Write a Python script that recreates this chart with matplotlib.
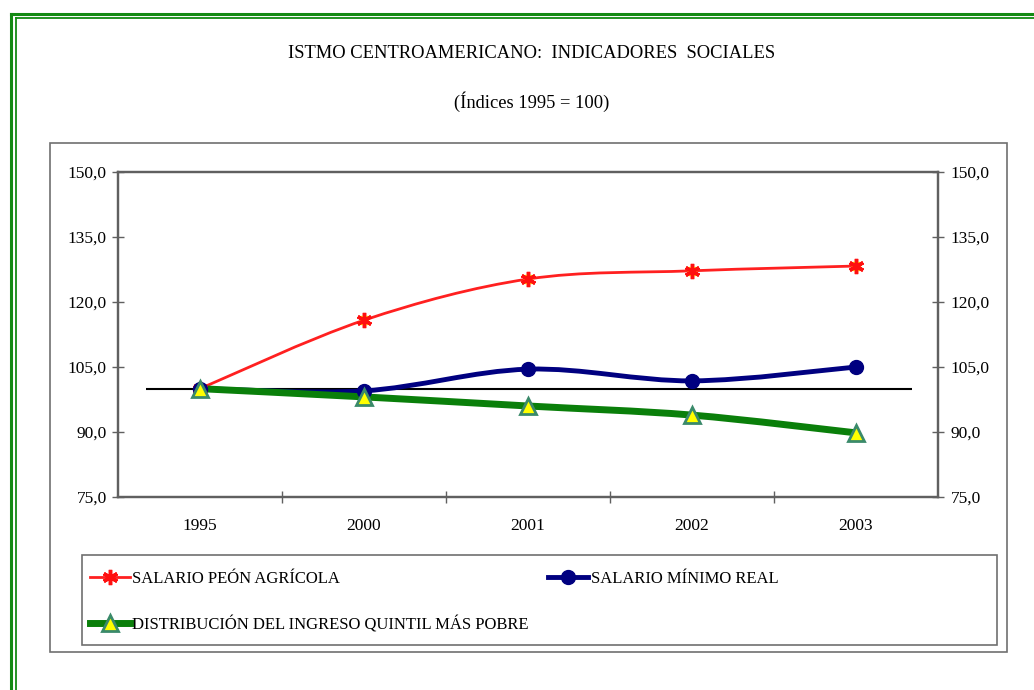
import matplotlib.pyplot as plt
import numpy as np
from matplotlib.path import Path
from matplotlib.patches import PathPatch, Rectangle
from matplotlib.lines import Line2D
from matplotlib.ticker import FuncFormatter

plt.rcParams['font.family'] = ['Liberation Serif', 'DejaVu Serif']

years = ["1995", "2000", "2001", "2002", "2003"]
peon = [100.0, 115.8, 125.3, 127.2, 128.3]
minimo = [100.0, 99.5, 104.5, 101.8, 105.0]
quintil = [100.0, 98.1, 96.0, 93.9, 89.8]

labels = ["SALARIO PEÓN AGRÍCOLA", "DISTRIBUCIÓN DEL INGRESO QUINTIL MÁS POBRE",
          "SALARIO MÍNIMO REAL"]
yticks = [75, 90, 105, 120, 135, 150]


def smooth_path(xs, ys):
    # excel style smoothed line: bezier segments through each point
    pts = np.column_stack([xs, ys]).astype(float)
    n = len(pts)
    verts = [pts[0]]
    codes = [Path.MOVETO]
    for i in range(n - 1):
        p0 = pts[max(i - 1, 0)]
        p1 = pts[i]
        p2 = pts[i + 1]
        p3 = pts[min(i + 2, n - 1)]
        c1 = p1 + (p2 - p0) / 6
        c2 = p2 - (p3 - p1) / 6
        verts += [c1, c2, p2]
        codes += [Path.CURVE4] * 3
    return Path(verts, codes)


fig = plt.figure(figsize=(10.34, 6.9), dpi=100)

# green double frame
fig.add_artist(Line2D([11/1034, 11/1034], [0, 1 - 14/690], color="#138a13", lw=2.2))
fig.add_artist(Line2D([11/1034, 1], [1 - 14/690, 1 - 14/690], color="#138a13", lw=2.2))
fig.add_artist(Line2D([16/1034, 16/1034], [0, 1 - 18/690], color="#138a13", lw=1.3))
fig.add_artist(Line2D([16/1034, 1], [1 - 18/690, 1 - 18/690], color="#138a13", lw=1.3))

# chart area and legend boxes
fig.add_artist(Rectangle((50/1034, 1 - 652/690), 957/1034, 509/690, transform=fig.transFigure,
                         fill=False, edgecolor="#707070", lw=1.2))
fig.add_artist(Rectangle((82/1034, 1 - 645/690), 915/1034, 90/690, transform=fig.transFigure,
                         fill=False, edgecolor="#707070", lw=1.2))

fig.text(0.5145, 1 - 53/690, "ISTMO CENTROAMERICANO:  INDICADORES  SOCIALES",
         ha="center", va="center", fontsize=13.3)
fig.text(0.5145, 1 - 102/690, "(Índices 1995 = 100)", ha="center", va="center", fontsize=13.3)

ax = fig.add_axes([118/1034, 1 - 497/690, 820/1034, 325/690])
x = np.arange(len(years))

ax.hlines(100, -0.33, 4.34, color="black", lw=1.5, zorder=2)

ax.add_patch(PathPatch(smooth_path(x, peon), fill=False, edgecolor="#ff2020", lw=2, zorder=3))
ax.add_patch(PathPatch(smooth_path(x, minimo), fill=False, edgecolor="#000080", lw=3.5, zorder=3))
ax.add_patch(PathPatch(smooth_path(x, quintil), fill=False, edgecolor="#0a7f0a", lw=5, zorder=3))

ax.plot(x, peon, ls="none", marker="s", ms=6, mfc="yellow", mec="yellow", zorder=4)
ax.plot(x, peon, ls="none", marker=(6, 2, 0), ms=11, mec="#ff1010", mew=2.5, zorder=5)
ax.plot(x, minimo, ls="none", marker="o", ms=10, mfc="#000080", mec="#000080", zorder=5)
ax.plot(x, quintil, ls="none", marker="^", ms=12, mfc="yellow", mec="#3a8a6a", mew=2, zorder=6)

ax.set_xlim(-0.5, len(years) - 0.5)
ax.set_ylim(75, 150)
ax.set_yticks(yticks)
fmt = FuncFormatter(lambda v, p: f"{v:.1f}".replace(".", ","))
ax.yaxis.set_major_formatter(fmt)
ax.set_xticks(x)
ax.set_xticklabels(years)
ax.set_xticks(x[:-1] + 0.5, minor=True)
ax.tick_params(axis="x", which="major", length=0, pad=15, labelsize=12.5)
ax.tick_params(axis="x", which="minor", direction="inout", length=8, width=1, color="#606060")
ax.tick_params(axis="y", direction="inout", length=8, width=1, color="#606060", labelsize=12.5, pad=4)

ax2 = ax.twinx()
ax2.set_ylim(75, 150)
ax2.set_yticks(yticks)
ax2.yaxis.set_major_formatter(fmt)
ax2.tick_params(axis="y", direction="inout", length=8, width=1, color="#606060", labelsize=12.5, pad=5)

for a in (ax, ax2):
    for s in a.spines.values():
        s.set_color("#606060")
        s.set_linewidth(1.6)

h1 = Line2D([], [], color="#ff2020", lw=2, marker=(6, 2, 0), ms=11, mec="#ff1010", mew=2.5)
h2 = Line2D([], [], color="#0a7f0a", lw=5, marker="^", ms=12, mfc="yellow", mec="#3a8a6a", mew=2)
h3 = Line2D([], [], color="#000080", lw=3.5, marker="o", ms=10, mfc="#000080", mec="#000080")
fig.legend([h1, h2, h3], labels, ncol=2, loc="upper left",
           bbox_to_anchor=(90/1034, 1 - 571/690), frameon=False, fontsize=12,
           handlelength=2.4, handletextpad=0.15, columnspacing=1.15, labelspacing=1.75,
           borderpad=0, borderaxespad=0)

fig.savefig("out.png", dpi=100)
